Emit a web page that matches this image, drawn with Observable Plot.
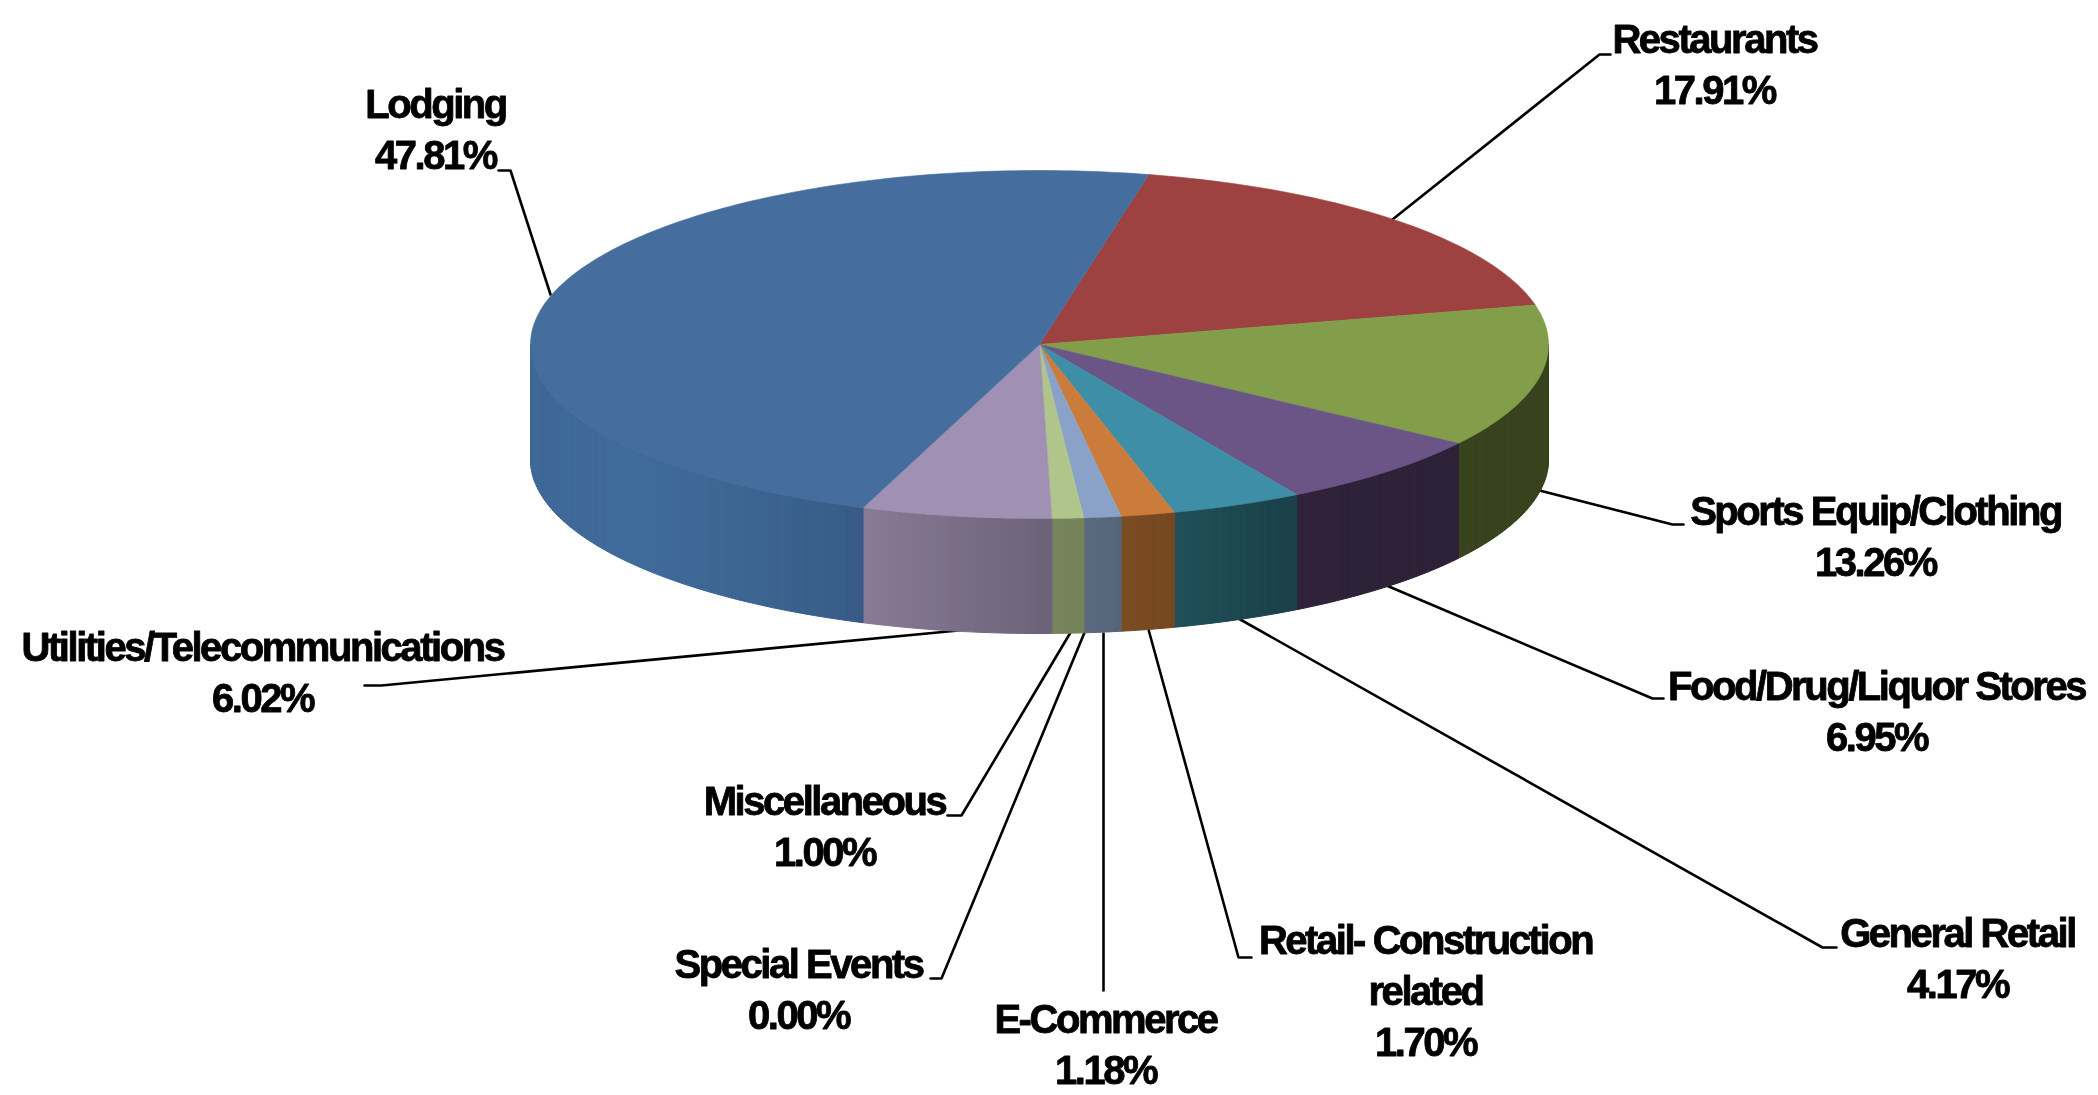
<!DOCTYPE html>
<html>
<head>
<meta charset="utf-8">
<script src="https://cdn.jsdelivr.net/npm/d3@7"></script>
<script src="https://cdn.jsdelivr.net/npm/@observablehq/plot@0.6"></script>
<style>html,body{margin:0;padding:0;background:#fff;overflow:hidden}svg{display:block}</style>
</head>
<body>
<div id="chart"></div>
<script>
// Data, clockwise from the top of the pie
const categories = ["Restaurants","Sports Equip/Clothing","Food/Drug/Liquor Stores","General Retail","Retail- Construction\nrelated","E-Commerce","Special Events","Miscellaneous","Utilities/Telecommunications","Lodging"];
const shares = [17.91,13.26,6.95,4.17,1.70,1.18,0.00,1.00,6.02,47.81];

// Colours
const topColors = ["#9e4241","#829e4a","#6b5486","#3e8ea8","#cc7c3a","#8aa2c8","#4d9cb8","#afc58c","#a090b4","#456e9f"];
const sideColors = [
  ["#6d2c2b","#6d2c2b"],["#38431e","#38431e"],["#2f2239","#2d2138"],["#205059","#1a3f49"],
  ["#7c4c22","#744720"],["#5a6a80","#566579"],["#2a5a6a","#2a5a6a"],["#78865f","#748259"],
  ["#897a96","#6c6278"],["#3e6896","#3f6b9b","#3c6591","#375b86"]
];

// Layout: pie geometry, label anchors and leader routes (page units)
const pie = {cx:1039, cy:344, rx:509, ry:174, depth:115, startDeg:12.4};
const labelAt = [[1714,62],[1875,534],[1876,709],[1957,956],[1425,988],[1105,1042],[798,987],[824,824],[262,670],[435,127]];
const leaders = [
  [[1392,219],[1599,54],[1610,54]],
  [[1539,490],[1672,524],[1683,524]],
  [[1386,585],[1652,698],[1663,698]],
  [[1238,618],[1822,947],[1836,947]],
  [[1148,629],[1238,957],[1251,957]],
  [[1103,633],[1103,990]],
  [[1084,632],[941,978],[930,978]],
  [[1070,632],[961,815],[947,815]],
  [[958,630],[381,685],[364,685]],
  [[550,294],[510,170],[498,170]]
];

const rad = d => d * Math.PI / 180;
const px = a => pie.cx + pie.rx * Math.sin(rad(a));
const py = a => pie.cy - pie.ry * Math.cos(rad(a));

// Slice angles come from the shares
let cursor = pie.startDeg;
const slices = categories.map((name, i) => {
  const a0 = cursor, a1 = cursor + shares[i] * 3.6;
  cursor = a1;
  return {name, i, a0, a1, value: shares[i]};
});

const topPts = [], sidePts = [];
for (const s of slices) {
  if (s.value > 0) {
    const n = Math.max(2, Math.ceil(s.a1 - s.a0));
    topPts.push({id:s.i, x:pie.cx, y:pie.cy, fill:topColors[s.i]});
    for (let k = 0; k <= n; k++) {
      const a = s.a0 + (s.a1 - s.a0) * k / n;
      topPts.push({id:s.i, x:px(a), y:py(a), fill:topColors[s.i]});
    }
    topPts.push({id:s.i, x:pie.cx, y:pie.cy, fill:topColors[s.i]});
  }
  // Front wall: only the part between the right and left extremes is visible
  const lo = Math.max(s.a0, 90), hi = Math.min(s.a1, 270);
  if (hi > lo) {
    const shade = d3.piecewise(d3.interpolateRgb, sideColors[s.i]);
    const n = Math.max(1, Math.ceil(hi - lo));
    const xl = px(hi), xr = px(lo);
    for (let k = 0; k < n; k++) {
      const b0 = lo + (hi - lo) * k / n, b1 = lo + (hi - lo) * (k + 1) / n;
      const t = ((px(b0) + px(b1)) / 2 - xl) / (xr - xl);
      const id = `w${s.i}-${k}`, fill = shade(t);
      for (const [x, y] of [[px(b0),py(b0)],[px(b1),py(b1)],[px(b1),py(b1)+pie.depth],[px(b0),py(b0)+pie.depth],[px(b0),py(b0)]]) {
        sidePts.push({id, x, y, fill});
      }
    }
  }
}

const leaderPts = leaders.flatMap((route, i) => route.map(([x, y]) => ({id:i, x, y})));
const labels = slices.map(s => ({
  x: labelAt[s.i][0], y: labelAt[s.i][1],
  text: `${s.name}\n${s.value.toFixed(2)}%`
}));

const chart = Plot.plot({
  width: 2098, height: 1095,
  margin: 0,
  x: {domain:[0,2098], range:[0,2098], axis:null},
  y: {domain:[0,1095], range:[0,1095], axis:null},
  color: {type:"identity"},
  style: {background:"#fff", letterSpacing:"-2.45px", filter:"blur(0.5px)"},
  marks: [
    Plot.line(leaderPts, {x:"x", y:"y", z:"id", stroke:"#000", strokeWidth:2.6, strokeLinejoin:"miter"}),
    Plot.line(sidePts, {x:"x", y:"y", z:"id", fill:"fill", stroke:"fill", strokeWidth:1}),
    Plot.line(topPts, {x:"x", y:"y", z:"id", fill:"fill", stroke:"fill", strokeWidth:0.6}),
    Plot.text(labels, {x:"x", y:"y", text:"text", fontSize:40, fontWeight:"bold",
      fontFamily:"Liberation Sans, Arial, sans-serif", fill:"#000", stroke:"#000", strokeWidth:0.8,
      lineHeight:1.275, textAnchor:"middle", lineAnchor:"middle"})
  ]
});
document.getElementById("chart").appendChild(chart);
</script>
</body>
</html>
